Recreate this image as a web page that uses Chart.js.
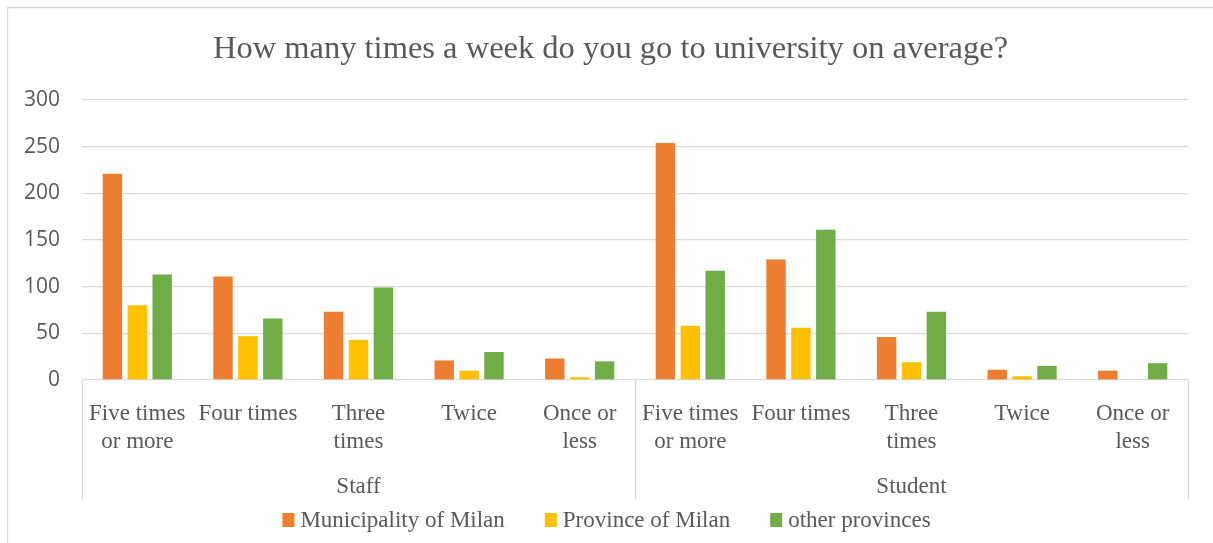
<!DOCTYPE html>
<html>
<head>
<meta charset="utf-8">
<script src="https://cdn.jsdelivr.net/npm/chart.js@4"></script>
<style>
  html, body { margin: 0; padding: 0; background: #ffffff; }
  canvas { display: block; }
</style>
</head>
<body>
<canvas id="visitsChart" width="1213" height="543"></canvas>
<script>
// Frequency answers, grouped by respondent type
const categories = [
    ['Five times', 'or more'], 'Four times', ['Three', 'times'], 'Twice', ['Once or', 'less'],
    ['Five times', 'or more'], 'Four times', ['Three', 'times'], 'Twice', ['Once or', 'less']
];
const groups = ['Staff', 'Student'];
const groupSize = 5;

const municipalityOfMilan = [221, 111, 73, 21, 23, 254, 129, 46, 11, 10];
const provinceOfMilan = [80, 47, 43, 10, 3, 58, 56, 19, 4, 0];
const otherProvinces = [113, 66, 99, 30, 20, 117, 161, 73, 15, 18];

const seriesNames = ['Municipality of Milan', 'Province of Milan', 'other provinces'];
const seriesColors = ['#ED7D31', '#FFC000', '#70AD47'];
const chartTitle = 'How many times a week do you go to university on average?';

const TEXT = '#595959';
const GRID = '#D9D9D9';
const SERIF = '"Liberation Serif", "Times New Roman", serif';
const SANS = '"Open Sans", "Noto Sans", sans-serif';

/**
 * Draws the outer frame and title, the group row under the category labels
 * (separators + Staff/Student) and the legend row at the bottom.
 */
const groupAxisPlugin = {
    id: 'groupAxis',
    beforeDraw(chart) {
        const ctx = chart.ctx;
        ctx.save();
        ctx.strokeStyle = GRID;
        ctx.lineWidth = 1.3;
        ctx.beginPath();
        ctx.moveTo(7.5, chart.height);
        ctx.lineTo(7.5, 7.5);
        ctx.lineTo(chart.width, 7.5);
        ctx.stroke();

        ctx.fillStyle = TEXT;
        ctx.font = '32.5px ' + SERIF;
        ctx.textAlign = 'center';
        ctx.textBaseline = 'alphabetic';
        ctx.fillText(chartTitle, 610.5, 58);
        ctx.restore();
    },
    afterDraw(chart) {
        const ctx = chart.ctx;
        const x = chart.scales.x;
        const area = chart.chartArea;
        const bottom = x.bottom;
        const step = (x.right - x.left) / categories.length;

        ctx.save();
        ctx.strokeStyle = GRID;
        ctx.lineWidth = 1.3;
        for (let g = 0; g <= groups.length; g++) {
            const px = Math.round(x.left + g * groupSize * step) + 0.5;
            ctx.beginPath();
            ctx.moveTo(px, area.bottom);
            ctx.lineTo(px, bottom);
            ctx.stroke();
        }

        ctx.fillStyle = TEXT;
        ctx.font = '23px ' + SERIF;
        ctx.textAlign = 'center';
        ctx.textBaseline = 'alphabetic';
        groups.forEach((name, g) => {
            const first = x.getPixelForValue(g * groupSize);
            const last = x.getPixelForValue(g * groupSize + groupSize - 1);
            ctx.fillText(name, (first + last) / 2, bottom - 7);
        });

        // legend
        const boxW = 12, boxH = 14, gap = 6, itemGap = 40;
        ctx.textAlign = 'left';
        const widths = chart.data.datasets.map(ds => boxW + gap + ctx.measureText(ds.label).width);
        const total = widths.reduce((a, b) => a + b, 0) + itemGap * (widths.length - 1);
        let cx = (chart.width - total) / 2;
        const cy = 520;
        chart.data.datasets.forEach((ds, i) => {
            ctx.fillStyle = ds.backgroundColor;
            ctx.fillRect(cx, cy - boxH / 2, boxW, boxH);
            ctx.fillStyle = TEXT;
            ctx.fillText(ds.label, cx + boxW + gap, cy + 7);
            cx += widths[i] + itemGap;
        });
        ctx.restore();
    }
};

const seriesData = [municipalityOfMilan, provinceOfMilan, otherProvinces];

new Chart(document.getElementById('visitsChart'), {
    type: 'bar',
    data: {
        labels: categories,
        datasets: seriesData.map((values, i) => ({
            label: seriesNames[i],
            data: values,
            backgroundColor: seriesColors[i],
            categoryPercentage: 0.675,
            barPercentage: 0.78
        }))
    },
    options: {
        responsive: false,
        animation: false,
        layout: { padding: { left: 0, right: 25, top: 100, bottom: 43 } },
        plugins: {
            legend: { display: false },
            tooltip: { enabled: false },
            title: { display: false }
        },
        scales: {
            x: {
                grid: { display: false },
                border: { display: false },
                ticks: {
                    color: TEXT,
                    font: { family: SERIF, size: 23, lineHeight: 1.23 },
                    padding: 12,
                    maxRotation: 0,
                    autoSkip: false
                },
                afterFit(scale) { scale.height = 120; }
            },
            y: {
                min: 0,
                max: 300,
                grid: { color: GRID, lineWidth: 1.3, drawTicks: false },
                border: { display: false },
                ticks: {
                    stepSize: 50,
                    color: TEXT,
                    font: { family: SANS, size: 21 },
                    padding: 22
                },
                afterFit(scale) { scale.width = 82; }
            }
        }
    },
    plugins: [groupAxisPlugin]
});
</script>
</body>
</html>
